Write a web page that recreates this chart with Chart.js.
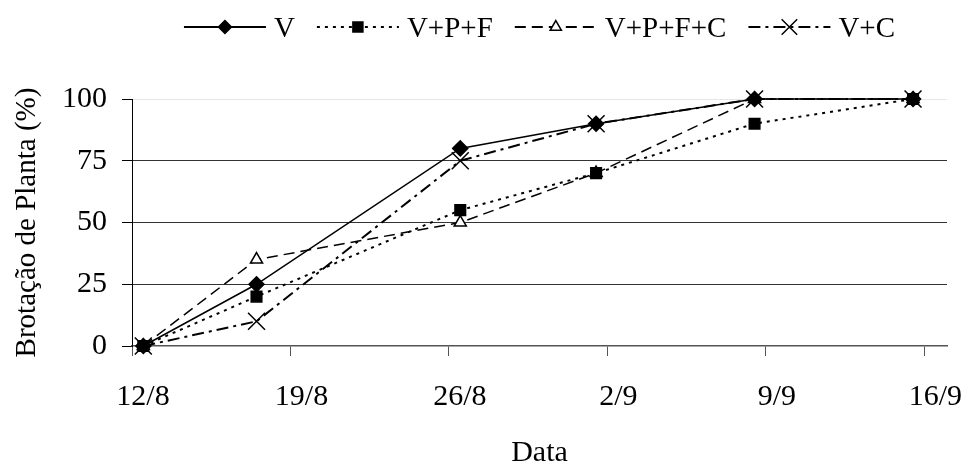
<!DOCTYPE html>
<html>
<head>
<meta charset="utf-8">
<script src="https://cdn.jsdelivr.net/npm/chart.js@4/dist/chart.umd.min.js"></script>
<style>
  html, body { margin: 0; padding: 0; background: #fff; }
  #wrap { width: 964px; height: 463px; }
</style>
</head>
<body>
<div id="wrap"><canvas id="chart"></canvas></div>
<script>
// Brotação de planta (%) por data de avaliação

const sampleDates = ['12/8', '17/8', '26/8', '1/9', '8/9', '15/9'];
const xTickLabels = ['12/8', '19/8', '26/8', '2/9', '9/9', '16/9'];
const seriesNames = ['V', 'V+P+F', 'V+P+F+C', 'V+C'];

const valuesV = [0, 25, 80, 90, 100, 100];
const valuesVPF = [0, 20, 55, 70, 90, 100];
const valuesVPFC = [0, 35, 50, 70, 100, 100];
const valuesVC = [0, 10, 75, 90, 100, 100];

const serif = "'Liberation Serif', 'Times New Roman', serif";

const seriesStyles = [
  { dash: [], width: 1.5, point: 'rectRot', radius: 7.5, legendRadius: 6.5, fill: '#000' },
  { dash: [3, 5], width: 2, point: 'rect', radius: 7.5, legendRadius: 5, fill: '#000' },
  { dash: [11, 6], width: 1.5, point: 'triangle', radius: 7, legendRadius: 6.5, fill: '#fff' },
  { dash: [12, 5, 3, 5], width: 2, point: 'crossRot', radius: 12, legendRadius: 11, fill: '#000' }
];

// day number since 12/8, centred in its day like the original date axis
function dayOf(label) {
  const [d, m] = label.split('/').map(Number);
  const diff = new Date(2000, m - 1, d) - new Date(2000, 7, 12);
  return Math.round(diff / 86400000) + 0.5;
}

function drawMarker(g, type, x, y, r) {
  g.beginPath();
  if (type === 'rectRot') {
    g.moveTo(x, y - r); g.lineTo(x + r, y); g.lineTo(x, y + r); g.lineTo(x - r, y); g.closePath();
    g.fill(); g.stroke();
  } else if (type === 'rect') {
    g.rect(x - r, y - r, 2 * r, 2 * r);
    g.fill(); g.stroke();
  } else if (type === 'triangle') {
    const h = r * Math.sqrt(3) / 2;
    g.moveTo(x, y - r); g.lineTo(x + h, y + r / 2); g.lineTo(x - h, y + r / 2); g.closePath();
    g.fill(); g.stroke();
  } else {
    const o = r * Math.SQRT1_2;
    g.moveTo(x - o, y - o); g.lineTo(x + o, y + o);
    g.moveTo(x + o, y - o); g.lineTo(x - o, y + o);
    g.stroke();
  }
}

// legend: line sample with marker, then the name, centred over the plot
const lineLegend = {
  id: 'lineLegend',
  afterDraw(chart) {
    const ctx = chart.ctx;
    const lineW = 82, gapText = 8, gapItem = 22;
    ctx.save();
    ctx.font = `29px ${serif}`;
    const widths = chart.data.datasets.map(ds => ctx.measureText(ds.label).width);
    const total = widths.reduce((s, w) => s + lineW + gapText + w, 0) + gapItem * (widths.length - 1);
    const area = chart.chartArea;
    let x = (area.left + area.right) / 2 - total / 2;
    const y = 27;
    chart.data.datasets.forEach((ds, i) => {
      const st = seriesStyles[i];
      ctx.strokeStyle = '#000';
      ctx.lineWidth = 2;
      ctx.setLineDash(st.dash);
      ctx.beginPath();
      ctx.moveTo(x, y);
      ctx.lineTo(x + lineW, y);
      ctx.stroke();
      ctx.setLineDash([]);
      ctx.lineWidth = 1.5;
      ctx.fillStyle = st.fill;
      drawMarker(ctx, st.point, x + lineW / 2, y, st.legendRadius);
      ctx.fillStyle = '#000';
      ctx.textBaseline = 'alphabetic';
      ctx.fillText(ds.label, x + lineW + gapText, 37);
      x += lineW + gapText + widths[i] + gapItem;
    });
    ctx.restore();
  }
};

const allValues = [valuesV, valuesVPF, valuesVPFC, valuesVC];

const datasets = allValues.map((vals, i) => {
  const st = seriesStyles[i];
  return {
    label: seriesNames[i],
    data: vals.map((v, j) => ({ x: dayOf(sampleDates[j]), y: v })),
    borderColor: '#000',
    borderWidth: st.width,
    borderDash: st.dash,
    pointStyle: st.point,
    pointRadius: st.radius,
    pointBorderWidth: 1.5,
    pointBorderColor: '#000',
    pointBackgroundColor: st.fill,
    tension: 0,
    fill: false,
    clip: false
  };
});

new Chart(document.getElementById('chart'), {
  type: 'line',
  data: { datasets },
  plugins: [lineLegend],
  options: {
    responsive: true,
    maintainAspectRatio: false,
    animation: false,
    layout: { padding: { top: 99, right: 17, bottom: 0, left: 0 } },
    plugins: {
      tooltip: { enabled: false },
      legend: { display: false }
    },
    scales: {
      x: {
        type: 'linear',
        min: 0,
        max: 36,
        afterFit: (s) => { s.height = 117; s.paddingLeft = 0; s.paddingRight = 0; },
        ticks: {
          stepSize: 7,
          includeBounds: false,
          labelOffset: 11,
          padding: 23,
          color: '#000',
          font: { family: serif, size: 30 },
          maxRotation: 0,
          callback: (v, i) => xTickLabels[i]
        },
        grid: {
          drawOnChartArea: false,
          drawTicks: true,
          tickLength: 10,
          tickColor: '#555'
        },
        border: { color: '#555', width: 1.5 },
        title: {
          display: true,
          text: 'Data',
          color: '#000',
          font: { family: serif, size: 30, lineHeight: '19px' },
          padding: { top: 0, bottom: 0 }
        }
      },
      y: {
        min: 0,
        max: 100,
        afterFit: (s) => { s.width = 132; s.paddingTop = 0; s.paddingBottom = 0; },
        ticks: {
          stepSize: 25,
          padding: 15,
          color: '#000',
          font: { family: serif, size: 30 }
        },
        grid: {
          color: (ctx) => {
            const v = ctx.tick ? ctx.tick.value : null;
            if (v === 0) return 'rgba(0,0,0,0)';
            if (v === 100) return '#e6e6e6';
            return '#333';
          },
          tickColor: '#000',
          tickLength: 10,
          lineWidth: 1
        },
        border: { color: '#000', width: 1 },
        title: {
          display: true,
          text: 'Brotação de Planta (%)',
          color: '#000',
          font: { family: serif, size: 29, lineHeight: 1.2 },
          padding: { top: 10, bottom: 0 }
        }
      }
    }
  }
});
</script>
</body>
</html>
